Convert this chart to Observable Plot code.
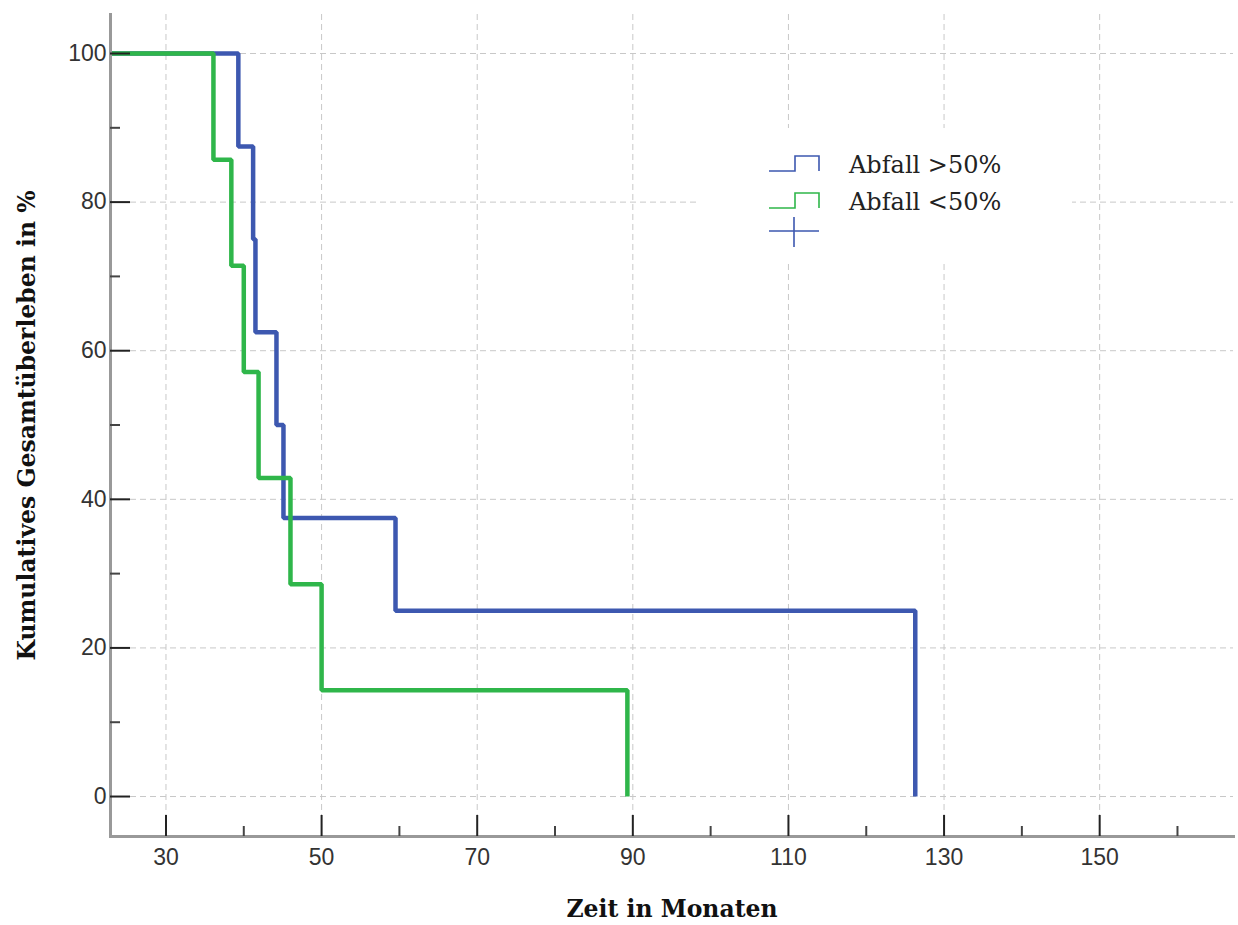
<!DOCTYPE html>
<html><head><meta charset="utf-8">
<script src="https://cdn.jsdelivr.net/npm/d3@7"></script>
<script src="https://cdn.jsdelivr.net/npm/@observablehq/plot@0.6"></script>
<style>body{margin:0;background:#fff}</style>
</head><body><div id="chart"></div>
<script>
// ---- data ----
const groups = ["Abfall >50%", "Abfall <50%"];
const colors = ["#3d58b0", "#2fb64a"];
const blueTime = [0, 39.3, 41.2, 41.5, 44.2, 45.1, 59.5, 126.3];
const blueSurv = [100, 87.5, 75, 62.5, 50, 37.5, 25, 0];
const greenTime = [0, 36.1, 38.4, 40.0, 41.9, 46.0, 50.0, 89.3];
const greenSurv = [100, 85.71, 71.43, 57.14, 42.86, 28.57, 14.29, 0];
const xMajorTicks = [30, 50, 70, 90, 110, 130, 150];
const xMinorTicks = [40, 60, 80, 100, 120, 140, 160];
const yMajorTicks = [0, 20, 40, 60, 80, 100];
const yMinorTicks = [10, 30, 50, 70, 90];
const xTitle = "Zeit in Monaten";
const yTitle = "Kumulatives Gesamtüberleben in %";

const rows = [
  ...blueTime.map((t, i) => ({time: t, surv: blueSurv[i], group: groups[0]})),
  ...greenTime.map((t, i) => ({time: t, surv: greenSurv[i], group: groups[1]}))
];

const W = 1238, H = 925, mL = 110, mR = 5, mT = 14, mB = 89;
const fw = W - mL - mR, fh = H - mT - mB;
const sans = "Liberation Sans, Arial, sans-serif";
const serif = "DejaVu Serif, Liberation Serif, serif";

const chart = Plot.plot({
  width: W, height: H,
  marginLeft: mL, marginRight: mR, marginTop: mT, marginBottom: mB,
  style: {fontFamily: sans, background: "#fff"},
  x: {domain: [22.87, 167.2]},
  y: {domain: [-5.38, 105.25]},
  color: {domain: groups, range: colors},
  marks: [
    Plot.gridX(xMajorTicks, {stroke: "#c8c8c8", strokeOpacity: 1, strokeDasharray: "6,4"}),
    Plot.gridY(yMajorTicks, {stroke: "#c8c8c8", strokeOpacity: 1, strokeDasharray: "6,4"}),
    Plot.line(rows, {x: "time", y: "surv", z: "group", stroke: "group", curve: "step-after",
      strokeWidth: 4.5, strokeLinejoin: "miter", strokeLinecap: "butt", clip: true}),
    Plot.frame({anchor: "left", stroke: "#999", strokeWidth: 3}),
    Plot.frame({anchor: "bottom", stroke: "#999", strokeWidth: 3}),
    Plot.tickY(yMajorTicks, {y: d => d, stroke: "#222", strokeWidth: 2, insetRight: fw - 20}),
    Plot.tickY(yMinorTicks, {y: d => d, stroke: "#444", strokeWidth: 2, insetRight: fw - 10}),
    Plot.tickX(xMajorTicks, {x: d => d, stroke: "#222", strokeWidth: 2, insetTop: fh - 21}),
    Plot.tickX(xMinorTicks, {x: d => d, stroke: "#444", strokeWidth: 2, insetTop: fh - 10}),
    Plot.axisY(yMajorTicks, {tickSize: 0, tickPadding: 4, fontSize: 23, fill: "#333", label: null}),
    Plot.axisX(xMajorTicks, {tickSize: 0, tickPadding: 12, fontSize: 23, fill: "#333", label: null}),
    Plot.text([xTitle], {frameAnchor: "bottom", dy: 80, lineAnchor: "bottom", fontFamily: serif,
      fontWeight: "bold", fontSize: 23.5, fill: "#111"}),
    Plot.text([yTitle], {frameAnchor: "left", dx: -83, rotate: -90, textAnchor: "middle",
      lineAnchor: "middle", fontFamily: serif, fontWeight: "bold", fontSize: 23.5, fill: "#111"})
  ]
});
document.getElementById("chart").appendChild(chart);

// ---- legend (custom, like the SPSS layout) ----
const svg = d3.select(chart);
const lg = svg.append("g");
lg.append("rect").attr("x", 700).attr("y", 128).attr("width", 372).attr("height", 134).attr("fill", "#fff");
const items = [
  {label: groups[0], color: colors[0], lo: 171, hi: 156},
  {label: groups[1], color: colors[1], lo: 208, hi: 193}
];
items.forEach(it => {
  lg.append("path").attr("d", `M769,${it.lo}H795V${it.hi}H819V${it.lo}`)
    .attr("fill", "none").attr("stroke", it.color).attr("stroke-width", 1.6);
  lg.append("text").attr("x", 849).attr("y", it.lo + 2).text(it.label)
    .attr("text-anchor", "start")
    .attr("font-family", serif).attr("font-size", 24).attr("fill", "#222");
});
lg.append("path").attr("d", "M769,231H819M794,217V247")
  .attr("fill", "none").attr("stroke", colors[0]).attr("stroke-width", 1.6);
</script>
</body></html>
